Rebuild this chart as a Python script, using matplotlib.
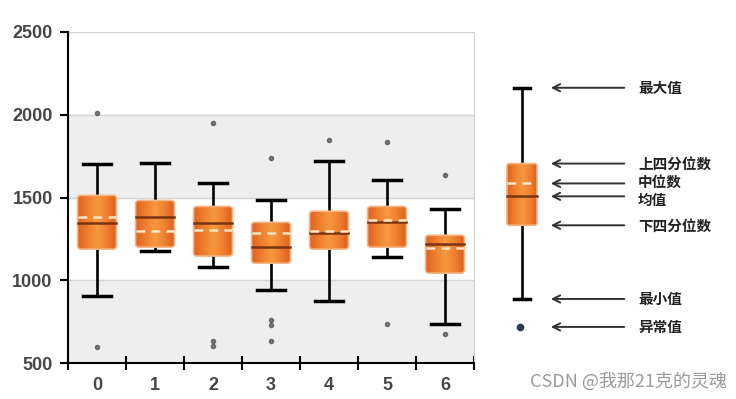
import numpy as np
import matplotlib
matplotlib.use('Agg')
from matplotlib import pyplot as plt
from matplotlib.patches import FancyBboxPatch
from matplotlib.colors import LinearSegmentedColormap

# box statistics
categories = ['0', '1', '2', '3', '4', '5', '6']
whisker_high = [1700, 1706, 1585, 1485, 1723, 1603, 1428]
upper_quartile = [1513, 1482, 1446, 1350, 1417, 1446, 1272]
medians = [1380, 1296, 1302, 1284, 1296, 1362, 1194]
means = [1344, 1380, 1344, 1200, 1284, 1350, 1218]
lower_quartile = [1188, 1200, 1146, 1103, 1188, 1200, 1043]
whisker_low = [905, 1176, 1079, 941, 875, 1140, 736]
outliers = [[2012, 598], [], [1952, 635, 605], [1736, 760, 728, 630],
            [1850], [1838, 736], [1633, 676]]
yticks = [500, 1000, 1500, 2000, 2500]

# the explanatory box on the right
legend_stats = [2163, 1705, 1585, 1507, 1332, 887, 718]
legend_labels = ['最大值', '上四分位数', '中位数', '均值', '下四分位数', '最小值', '异常值']
label_shift = [0, 0, 1.5, -2.5, 0, 0, 0]  # points, keeps the two middle labels apart

orange = LinearSegmentedColormap.from_list(
    'org', ['#E06420', '#EE8030', '#F6983E', '#EE8030', '#DC5E1C'])
grad = np.linspace(0, 1, 64).reshape(1, -1)


def draw_box(ax, x, lo, q1, med, mean, q3, hi, width, cap, aspect):
    ax.plot([x, x], [q3, hi], color='black', lw=1.9, zorder=2)
    ax.plot([x, x], [lo, q1], color='black', lw=1.9, zorder=2)
    ax.plot([x - cap / 2, x + cap / 2], [hi, hi], color='black', lw=2.5, zorder=2)
    ax.plot([x - cap / 2, x + cap / 2], [lo, lo], color='black', lw=2.5, zorder=2)
    patch = FancyBboxPatch((x - width / 2, q1), width, q3 - q1,
                           boxstyle='round,pad=0,rounding_size=%f' % (width * 0.08),
                           mutation_aspect=aspect, fc='none', ec='#F5B585', lw=1.2, zorder=4)
    ax.add_patch(patch)
    im = ax.imshow(grad, cmap=orange, aspect='auto', zorder=3,
                   extent=(x - width / 2, x + width / 2, q1, q3))
    im.set_clip_path(patch)
    ax.plot([x - width / 2, x + width / 2], [mean, mean], color='#7A3412', lw=1.8, zorder=5)
    ax.plot([x - width / 2, x + width / 2], [med, med], color='#FFE6C4', lw=1.8,
            dashes=(3.5, 2.5), zorder=5)


plt.rcParams['font.family'] = ['Liberation Sans', 'DejaVu Sans']
fig = plt.figure(figsize=(7.36, 3.99), dpi=100)
ax = fig.add_axes([68 / 736, 36 / 399, 406 / 736, 331 / 399])

ax.axhspan(500, 1000, color='#EEEEEE', zorder=0)
ax.axhspan(1500, 2000, color='#EEEEEE', zorder=0)
for v in yticks[1:]:
    ax.axhline(v, color='#D4D4D4', lw=1, zorder=1)

aspect = (2000 / 331) / (7 / 406)
for i in range(len(categories)):
    draw_box(ax, i, whisker_low[i], lower_quartile[i], medians[i], means[i],
             upper_quartile[i], whisker_high[i], 0.67, 0.47, aspect)
    ax.plot([i] * len(outliers[i]), outliers[i], 'o', color='#505050',
            ms=3, alpha=0.75, zorder=6)

ax.set_xlim(-0.5, 6.5)
ax.set_ylim(500, 2500)
ax.set_yticks(yticks)
ax.set_yticklabels([str(v) for v in yticks])
ax.set_xticks(np.arange(-0.5, 7, 1))
ax.set_xticklabels([])
ax.set_xticks(range(len(categories)), minor=True)
ax.set_xticklabels(categories, minor=True)
ax.tick_params(axis='x', which='major', direction='inout', length=10, width=1.5)
ax.tick_params(axis='x', which='minor', length=0, pad=10)
ax.tick_params(axis='y', direction='out', length=6, width=1.5, pad=5)
ax.tick_params(which='both', labelsize=13, labelcolor='#464646')
for lab in ax.get_xticklabels(minor=True) + ax.get_yticklabels():
    lab.set_fontweight('bold')
for s in ['left', 'bottom']:
    ax.spines[s].set_linewidth(1.5)
ax.spines['top'].set_visible(False)
ax.spines['right'].set_color('#D0D0D0')

# legend panel
lax = fig.add_axes([495 / 736, 36 / 399, 241 / 736, 331 / 399])
lax.set_xlim(0, 1)
lax.set_ylim(500, 2500)
lax.axis('off')
hi, q3, med, mean, q1, lo, out = legend_stats
draw_box(lax, 0.112, lo, q1, med, mean, q3, hi, 0.125, 0.07, (2000 / 331) / (1 / 241))
lax.plot([0.105], [out], 'o', color='#2E3A48', ms=4.5, zorder=6)
for val, lab, dy in zip(legend_stats, legend_labels, label_shift):
    lax.annotate('', xy=(0.22, val), xytext=(0.548, val),
                 arrowprops=dict(arrowstyle='->', color='#333333', lw=1.4, mutation_scale=13))
    lax.annotate(lab, xy=(0.593, val), xytext=(0, dy), textcoords='offset points',
                 ha='left', va='center', fontsize=10.5, fontweight='bold',
                 family=['Noto Sans CJK SC', 'DejaVu Sans'], color='#222222')

fig.text(727 / 736, 1 - 381 / 399, 'CSDN @我那21克的灵魂', ha='right', va='center',
         fontsize=13, color='#9A9A9A', family=['Noto Sans CJK SC', 'DejaVu Sans'])

fig.savefig('out.png', dpi=100)
